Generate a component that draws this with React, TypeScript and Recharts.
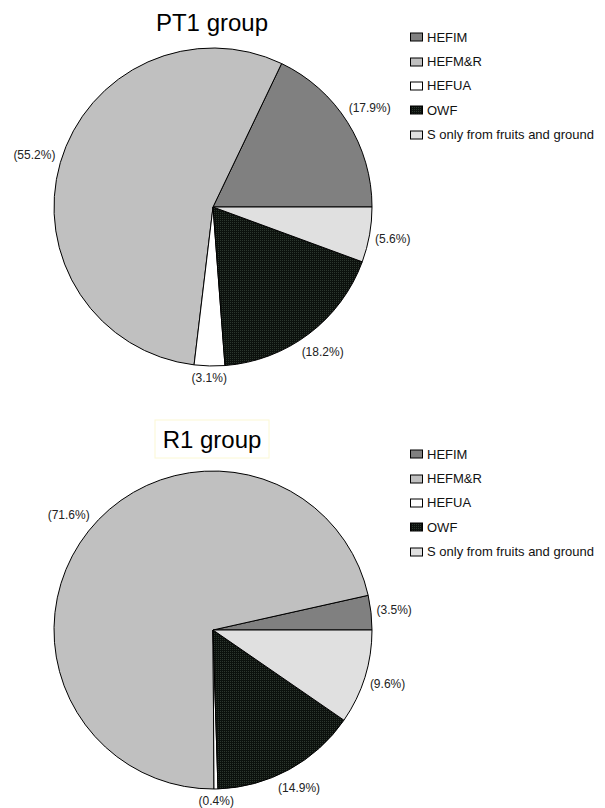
import React from "react";
import { PieChart, Pie, Cell, Legend } from "recharts";

const categories = ["HEFIM", "HEFM&R", "HEFUA", "OWF", "S only from fruits and ground"];
const pt1Values = [17.9, 55.2, 3.1, 18.2, 5.6];
const r1Values = [3.5, 71.6, 0.4, 14.9, 9.6];

const FONT = '"Liberation Sans", Arial, Helvetica, sans-serif';
const RAD = Math.PI / 180;

// approximate Arial advance widths (em) for the label glyphs
const glyphEm: Record<string, number> = { "(": 0.333, ")": 0.333, ".": 0.278, "%": 0.889 };
const textWidth = (s: string, size: number) =>
  s.split("").reduce((w, ch) => w + (glyphEm[ch] ?? 0.556), 0) * size;

const sliceFill = (i: number, patternId: string) =>
  ["#808080", "#c0c0c0", "#ffffff", `url(#${patternId})`, "#e0e0e0"][i];

const renderLabel = (props: any) => {
  const { cx, cy, midAngle, outerRadius, value } = props;
  const text = `(${Number(value).toFixed(1)}%)`;
  const c = Math.cos(-midAngle * RAD);
  const s = Math.sin(-midAngle * RAD);
  const w = textWidth(text, 12);
  const d = outerRadius + 5 + (Math.abs(c) * w) / 2 + Math.abs(s) * 6.5;
  return (
    <text
      x={cx + d * c}
      y={cy + d * s}
      textAnchor="middle"
      dominantBaseline="central"
      fontSize={12}
      fontFamily={FONT}
      fill="#222"
    >
      {text}
    </text>
  );
};

const LegendList = ({ patternId }: { patternId: string }) => (
  <div style={{ fontFamily: FONT, fontSize: 13, color: "#111" }}>
    {categories.map((name, i) => (
      <div key={name} style={{ display: "flex", alignItems: "center", height: 24.4, whiteSpace: "nowrap" }}>
        <svg width={15} height={10} style={{ marginRight: 2 }}>
          <rect x={0.5} y={1} width={12} height={8} fill={sliceFill(i, patternId)} stroke="#000" strokeWidth={1} />
        </svg>
        {name}
      </div>
    ))}
  </div>
);

// fine dark dotted fill used for OWF
const Texture = ({ id }: { id: string }) => (
  <defs>
    <pattern id={id} width={2} height={2} patternUnits="userSpaceOnUse">
      <rect width={2} height={2} fill="#0c110d" />
      <rect x={0} y={0} width={1} height={1} fill="#2c362e" />
    </pattern>
  </defs>
);

interface GroupPieProps {
  title: string;
  values: number[];
  patternId: string;
  height: number;
  cy: number;
  titleY: number;
  legendTop: number;
  boxed?: boolean;
}

const GroupPie = ({ title, values, patternId, height, cy, titleY, legendTop, boxed }: GroupPieProps) => {
  const data = categories.map((name, i) => ({ name, value: values[i] }));
  return (
    <PieChart width={589} height={height} margin={{ top: 0, right: 0, bottom: 0, left: 0 }}>
      <Texture id={patternId} />
      {boxed && <rect x={147} y={titleY - 28} width={114} height={38} fill="none" stroke="#fbf8d4" strokeWidth={1} />}
      <text x={204} y={titleY} textAnchor="middle" fontSize={24} fontFamily={FONT} fill="#000">
        {title}
      </text>
      <Pie
        data={data}
        dataKey="value"
        nameKey="name"
        cx={205}
        cy={cy}
        outerRadius={159}
        startAngle={0}
        endAngle={360}
        stroke="#000"
        strokeWidth={1}
        label={renderLabel}
        labelLine={false}
        isAnimationActive={false}
      >
        {data.map((d, i) => (
          <Cell key={d.name} fill={sliceFill(i, patternId)} />
        ))}
      </Pie>
      <Legend
        layout="vertical"
        verticalAlign="top"
        align="right"
        wrapperStyle={{ left: 402, top: legendTop, width: 190 }}
        content={() => <LegendList patternId={patternId} />}
      />
    </PieChart>
  );
};

export default function App() {
  return (
    <div style={{ position: "relative", width: 589, height: 800 }}>
      <div style={{ position: "absolute", left: 0, top: 0 }}>
        <GroupPie title="PT1 group" values={pt1Values} patternId="owfTexturePT1" height={407} cy={199} titleY={23} legendTop={17} />
      </div>
      <div style={{ position: "absolute", left: 0, top: 407 }}>
        <GroupPie title="R1 group" values={r1Values} patternId="owfTextureR1" height={393} cy={215} titleY={33} legendTop={27} boxed />
      </div>
    </div>
  );
}
